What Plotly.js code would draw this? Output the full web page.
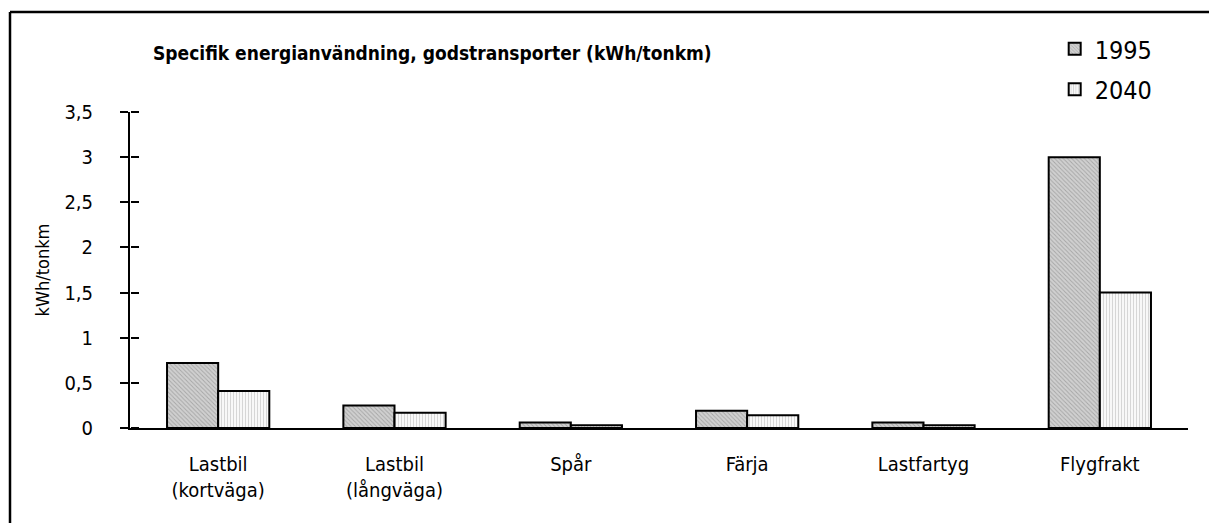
<!DOCTYPE html>
<html>
<head>
<meta charset="utf-8">
<script src="https://cdn.plot.ly/plotly-3.0.1.min.js"></script>
<style>html,body{margin:0;padding:0;background:#fff;}#chart{width:1209px;height:523px;}</style>
</head>
<body>
<div id="chart"></div>
<script>
const categories = ["Lastbil<br>(kortväga)", "Lastbil<br>(långväga)", "Spår", "Färja", "Lastfartyg", "Flygfrakt"];
const values1995 = [0.72, 0.25, 0.06, 0.19, 0.06, 3.0];
const values2040 = [0.41, 0.17, 0.03, 0.14, 0.03, 1.5];
const seriesNames = ["1995", "2040"];
const yTickVals = [0, 0.5, 1, 1.5, 2, 2.5, 3, 3.5];
const yTickText = ["0", "0,5", "1", "1,5", "2", "2,5", "3", "3,5"];

const FONT = '"DejaVu Sans Condensed", "Liberation Sans", sans-serif';

const traces = [
  {
    type: 'bar', name: seriesNames[0], legendgroup: 'a', x: categories, y: values1995,
    marker: {color: '#c8c8c8', line: {color: '#000', width: 2},
      pattern: {shape: '\\', fgcolor: '#a6a6a6', bgcolor: '#d0d0d0', size: 3, solidity: 0.3}}
  },
  {
    type: 'bar', name: seriesNames[1], legendgroup: 'b', x: categories, y: values2040,
    marker: {color: '#f0f0f0', line: {color: '#000', width: 2},
      pattern: {shape: '|', fgcolor: '#d2d2d2', bgcolor: '#f8f8f8', size: 3, solidity: 0.3}}
  },
  {
    type: 'scatter', x: categories, y: values1995, yaxis: 'y2', mode: 'markers', marker: {opacity: 0},
    showlegend: false, hoverinfo: 'skip'
  }
];

const layout = {
  width: 1209, height: 523,
  margin: {l: 130, r: 21, t: 112, b: 95},
  paper_bgcolor: '#fff', plot_bgcolor: '#fff',
  font: {family: FONT, color: '#000', size: 20},
  title: {text: '<b>Specifik energianvändning, godstransporter (kWh/tonkm)</b>',
    font: {family: FONT, size: 19, color: '#000'},
    x: 153/1209, xanchor: 'left', xref: 'container', y: 1 - 53/523, yanchor: 'middle', yref: 'container'},
  barmode: 'group', bargap: 0.42, bargroupgap: 0,
  showlegend: true,
  legend: {x: 0.874, y: 1.272, xanchor: 'left', yanchor: 'top', font: {family: FONT, size: 25, color: '#000'},
    bgcolor: 'rgba(0,0,0,0)', traceorder: 'grouped', tracegroupgap: 5, itemwidth: 30},
  xaxis: {showline: true, linecolor: '#000', linewidth: 2, ticks: '', showgrid: false, zeroline: false,
    ticklabelstandoff: 17,
    tickfont: {family: FONT, size: 20, color: '#000'}, fixedrange: true},
  yaxis: {range: [0, 3.5], tickvals: yTickVals, ticktext: yTickText, showline: true, linecolor: '#000', linewidth: 2,
    ticks: 'outside', ticklen: 8, tickwidth: 2, tickcolor: '#000', showgrid: false, zeroline: false,
    ticklabelstandoff: 23,
    tickfont: {family: FONT, size: 20, color: '#000'},
    title: {text: 'kWh/tonkm', font: {family: FONT, size: 18, color: '#000'}, standoff: 10}},
  yaxis2: {range: [0, 3.5], tickvals: yTickVals, overlaying: 'y', anchor: 'free', position: 0, side: 'right',
    ticks: 'outside', ticklen: 8, tickwidth: 2, tickcolor: '#000', showticklabels: false, showgrid: false,
    zeroline: false, showline: false},
  shapes: [
    {type: 'line', xref: 'paper', yref: 'paper', x0: (10-130)/1058, x1: (10-130)/1058, y0: (428-12)/316, y1: -0.4, line: {color: '#000', width: 2.5}},
    {type: 'line', xref: 'paper', yref: 'paper', x0: (10-130)/1058, x1: 1.1, y0: (428-12)/316, y1: (428-12)/316, line: {color: '#000', width: 2.5}}
  ]
};

Plotly.newPlot('chart', traces, layout, {staticPlot: true, displayModeBar: false});
</script>
</body>
</html>
